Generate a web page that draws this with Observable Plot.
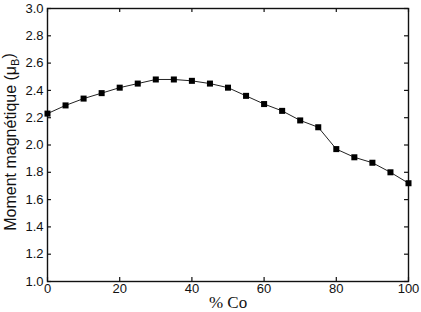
<!DOCTYPE html>
<html><head><meta charset="utf-8">
<script src="https://cdn.jsdelivr.net/npm/d3@7"></script>
<script src="https://cdn.jsdelivr.net/npm/@observablehq/plot@0.6"></script>
<style>body{margin:0;background:#fff}</style>
</head><body><div id="chart"></div>
<script>
const cobalt = [0,5,10,15,20,25,30,35,40,45,50,55,60,65,70,75,80,85,90,95,100];
const moment = [2.23,2.29,2.34,2.38,2.42,2.45,2.48,2.48,2.47,2.45,2.42,2.36,2.30,2.25,2.18,2.13,1.97,1.91,1.87,1.80,1.72];
const xTicks = [0,20,40,60,80,100];
const yTicks = [1.0,1.2,1.4,1.6,1.8,2.0,2.2,2.4,2.6,2.8,3.0];
const xLabel = "% Co";
const yLabelMain = "Moment magnétique (μ";
const yLabelSub = "B";
const yLabelEnd = ")";

const data = cobalt.map((c, i) => ({c, m: moment[i]}));
const sans = "Liberation Sans, Arial, Helvetica, sans-serif";
const tx = 1.1, ty = 0.03;

const chart = Plot.plot({
  width: 421, height: 312,
  marginLeft: 47, marginRight: 13, marginTop: 8, marginBottom: 31,
  style: {fontFamily: sans, fontSize: "13px", color: "#111", background: "#fff"},
  x: {domain: [0, 100]},
  y: {domain: [1, 3]},
  marks: [
    Plot.axisX(xTicks, {tickSize: 0, tickPadding: 2, label: null, fontSize: 13, fill: "#111"}),
    Plot.axisY(yTicks, {tickSize: 0, tickPadding: 4, tickFormat: d3.format(".1f"), label: null, fontSize: 13, fill: "#111"}),
    Plot.ruleX(xTicks, {x: d => d, y1: 1, y2: 1 + ty, stroke: "#111", strokeWidth: 1.2}),
    Plot.ruleX(xTicks, {x: d => d, y1: 3 - ty, y2: 3, stroke: "#111", strokeWidth: 1.2}),
    Plot.ruleY(yTicks, {y: d => d, x1: 0, x2: tx, stroke: "#111", strokeWidth: 1.2}),
    Plot.ruleY(yTicks, {y: d => d, x1: 100 - tx, x2: 100, stroke: "#111", strokeWidth: 1.2}),
    Plot.frame({stroke: "#111", strokeWidth: 1.4}),
    Plot.line(data, {x: "c", y: "m", stroke: "#222", strokeWidth: 1}),
    Plot.dot(data, {x: "c", y: "m", symbol: "square", r: 3.4, fill: "#000", stroke: "none"}),
    Plot.text([xLabel], {frameAnchor: "bottom", dy: 21, lineAnchor: "middle", fontFamily: "Liberation Serif, Times New Roman, serif", fontSize: 17, fill: "#111"}),
    Plot.text([yLabelMain], {frameAnchor: "left", dx: -37, dy: -3, rotate: -90, lineAnchor: "middle", textAnchor: "middle", fontSize: 16, fill: "#111", className: "ylab"})
  ]
});
document.getElementById("chart").appendChild(chart);

// add subscript to y label
d3.select(chart).selectAll("text").each(function() {
  if (this.textContent === yLabelMain) {
    const t = d3.select(this);
    t.append("tspan").attr("dy", "0.3em").attr("font-size", "11px").text(yLabelSub);
    t.append("tspan").attr("dy", "-0.3em").text(yLabelEnd);
  }
});
</script>
</body></html>
